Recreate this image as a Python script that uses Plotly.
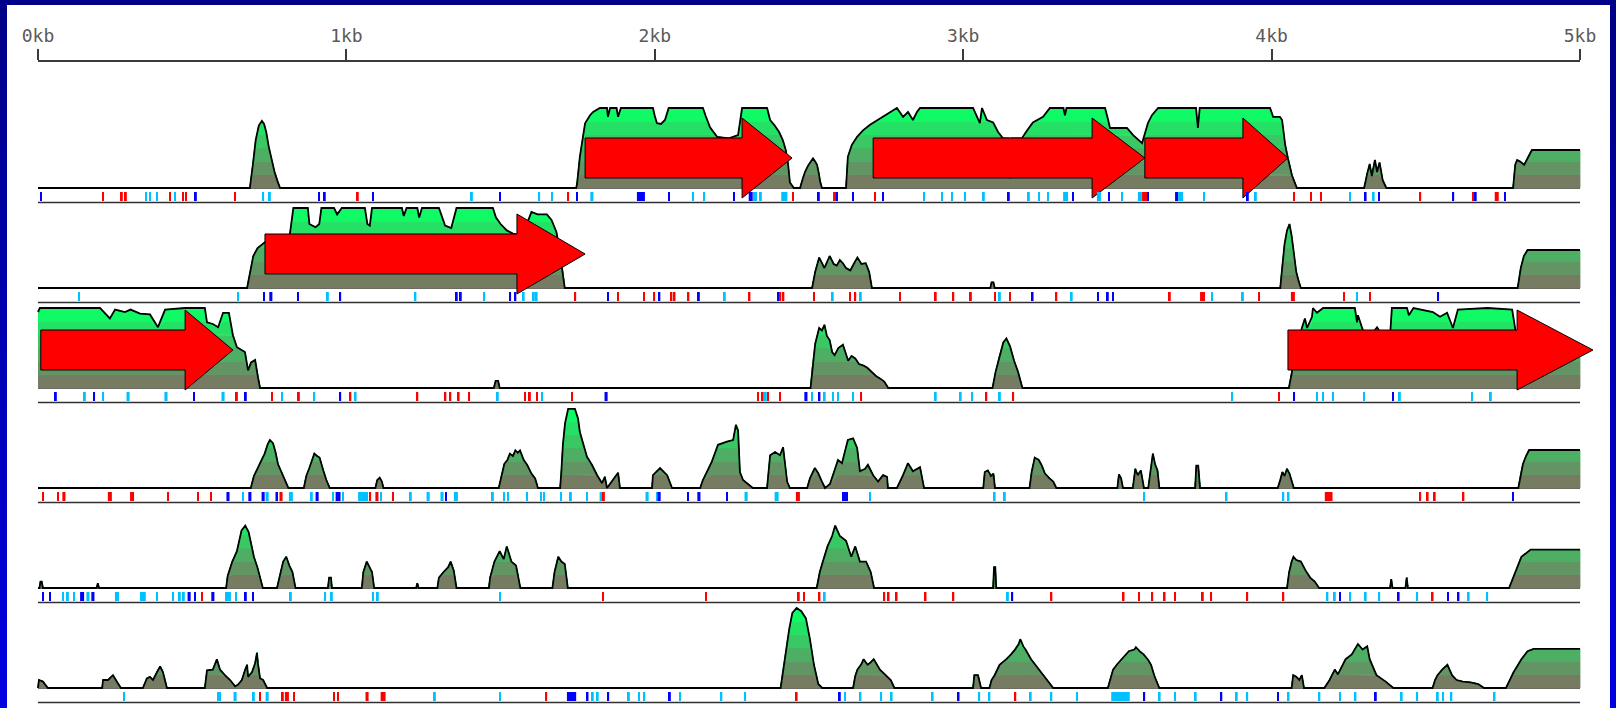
import plotly.graph_objects as go

# ---------------- data ----------------
seq_len = 5000
kb_ticks = [0, 1000, 2000, 3000, 4000, 5000]
kb_labels = ["0kb", "1kb", "2kb", "3kb", "4kb", "5kb"]

# profile of each of the six frames: (position bp, value %)
frame1 = [(0, 0), (687, 0), (697, 30), (706, 60), (716, 78), (726, 84), (733, 80), (740, 70), (748, 52),
          (757, 35), (767, 20), (777, 8), (785, 0),
          (1745, 0), (1748, 5), (1757, 39), (1766, 60), (1774, 81), (1790, 91), (1800, 95), (1822, 100),
          (1845, 100), (1848, 89), (1855, 100), (1876, 100), (1881, 89), (1890, 100), (1994, 100), (2000, 90),
          (2007, 81), (2020, 80), (2033, 85), (2045, 100), (2156, 100), (2165, 90), (2179, 76), (2202, 64),
          (2240, 62), (2270, 66), (2283, 100), (2364, 100), (2374, 85), (2387, 79), (2403, 70), (2415, 60),
          (2425, 47), (2432, 30), (2438, 7), (2451, 0),
          (2471, 0), (2480, 12), (2487, 20), (2497, 28), (2503, 32), (2513, 37), (2520, 33), (2526, 29),
          (2532, 18), (2536, 8), (2542, 0),
          (2620, 0), (2626, 39), (2639, 54), (2656, 64), (2675, 72), (2698, 79), (2730, 87), (2763, 95),
          (2785, 100), (2805, 89), (2821, 95), (2837, 85), (2850, 95), (2860, 100), (3032, 100), (3054, 81),
          (3061, 100), (3077, 85), (3097, 82), (3113, 70), (3129, 62), (3148, 62), (3152, 12), (3156, 62),
          (3190, 62), (3207, 72), (3226, 82), (3259, 89), (3281, 100), (3325, 100), (3330, 91), (3335, 100),
          (3460, 100), (3470, 85), (3476, 75), (3531, 75), (3551, 66), (3580, 56), (3599, 81), (3612, 91),
          (3632, 100), (3755, 100), (3761, 75), (3767, 100), (3995, 100), (4005, 89), (4027, 89), (4034, 85),
          (4044, 54), (4053, 37), (4066, 16), (4082, 0),
          (4300, 0), (4310, 18), (4318, 30), (4325, 15), (4335, 35), (4342, 20), (4350, 32), (4360, 10),
          (4372, 0),
          (4783, 0), (4790, 29), (4796, 35), (4806, 33), (4819, 29), (4829, 37), (4838, 44), (4844, 47.5),
          (5000, 47.5)]

frame2 = [(0, 0), (678, 0), (688, 20), (698, 40), (712, 50), (729, 55), (745, 60), (815, 62), (822, 85),
          (828, 100), (875, 100), (880, 80), (900, 76), (912, 80), (919, 100), (960, 100), (970, 92),
          (985, 100), (1060, 100), (1068, 80), (1076, 78), (1083, 100), (1180, 100), (1186, 90), (1195, 100),
          (1230, 100), (1236, 88), (1245, 100), (1300, 100), (1310, 90), (1320, 78), (1340, 75), (1357, 100),
          (1475, 100), (1485, 88), (1500, 80), (1520, 72), (1540, 68), (1560, 66), (1590, 85), (1600, 95),
          (1620, 92), (1650, 92), (1665, 85), (1681, 70), (1690, 50), (1700, 25), (1708, 0),
          (2510, 0), (2520, 20), (2533, 38), (2542, 30), (2550, 25), (2558, 32), (2567, 40), (2580, 30),
          (2590, 28), (2600, 35), (2610, 31), (2620, 25), (2634, 22), (2645, 30), (2657, 38), (2670, 30),
          (2684, 31), (2695, 20), (2704, 0),
          (3088, 0), (3092, 7), (3098, 7), (3102, 0),
          (4028, 0), (4035, 30), (4042, 55), (4050, 72), (4058, 80), (4065, 65), (4072, 40), (4080, 20),
          (4088, 8), (4095, 0),
          (4798, 0), (4808, 25), (4818, 40), (4830, 47.5), (5000, 47.5)]

frame3 = [(0, 95), (6, 100), (201, 100), (233, 87), (250, 98), (282, 95), (300, 98), (331, 93), (363, 92),
          (389, 76), (412, 98), (477, 100), (541, 100), (548, 82), (567, 80), (584, 76), (600, 94), (619, 94),
          (632, 66), (645, 51), (671, 45), (681, 22), (691, 32), (704, 35), (713, 14), (720, 0),
          (1478, 0), (1484, 9), (1492, 9), (1497, 0),
          (2505, 0), (2512, 30), (2520, 55), (2533, 75), (2542, 72), (2550, 79), (2558, 65), (2567, 60),
          (2575, 45), (2583, 41), (2595, 50), (2610, 54), (2618, 45), (2627, 34), (2638, 40), (2650, 37),
          (2662, 30), (2677, 28), (2690, 25), (2700, 21), (2717, 15), (2730, 12), (2744, 8), (2757, 0),
          (3095, 0), (3105, 20), (3118, 41), (3130, 57), (3140, 62), (3152, 52), (3165, 34), (3178, 20),
          (3192, 0),
          (4056, 0), (4066, 20), (4080, 50), (4099, 76), (4108, 87), (4115, 75), (4131, 89), (4134, 100),
          (4147, 94), (4167, 100), (4270, 100), (4277, 82), (4280, 91), (4296, 72), (4320, 65), (4342, 76),
          (4360, 65), (4385, 70), (4390, 100), (4439, 100), (4445, 91), (4460, 100), (4523, 95), (4546, 89),
          (4569, 94), (4588, 75), (4604, 98), (4700, 100), (4780, 98), (4789, 76), (4796, 60), (4830, 47.5),
          (5000, 47.5)]

frame4 = [(0, 0), (690, 0), (700, 15), (712, 24), (725, 35), (735, 43), (745, 55), (752, 60), (762, 56),
          (770, 45), (778, 30), (790, 20), (800, 11), (812, 0),
          (862, 0), (870, 15), (879, 24), (890, 35), (896, 43), (905, 40), (913, 38), (925, 22), (935, 10),
          (946, 0),
          (1094, 0), (1100, 10), (1108, 13), (1115, 8), (1120, 0),
          (1494, 0), (1500, 10), (1512, 30), (1522, 35), (1530, 43), (1540, 40), (1548, 47), (1556, 44),
          (1563, 47), (1575, 35), (1586, 29), (1600, 18), (1612, 12), (1621, 0),
          (1693, 0), (1697, 20), (1702, 54), (1709, 81), (1719, 99), (1741, 99), (1751, 87), (1757, 70),
          (1767, 56), (1780, 39), (1796, 29), (1813, 16), (1829, 6), (1838, 14), (1845, 0), (1864, 10),
          (1881, 19), (1887, 0),
          (1991, 0), (1994, 16), (2017, 25), (2040, 16), (2056, 0),
          (2147, 0), (2156, 10), (2185, 33), (2205, 54), (2234, 58), (2254, 60), (2263, 79), (2270, 72),
          (2276, 20), (2286, 10), (2318, 0),
          (2364, 0), (2374, 41), (2390, 45), (2406, 41), (2416, 51), (2429, 8), (2438, 0),
          (2494, 0), (2503, 12), (2519, 25), (2529, 19), (2542, 8), (2552, 0),
          (2568, 5), (2594, 35), (2607, 31), (2626, 60), (2643, 62), (2656, 50), (2665, 21), (2682, 24),
          (2691, 29), (2708, 16), (2724, 8), (2740, 16), (2753, 14), (2756, 0),
          (2785, 0), (2805, 16), (2821, 31), (2837, 21), (2860, 26), (2873, 0),
          (3065, 0), (3070, 20), (3080, 22), (3090, 15), (3098, 18), (3103, 0),
          (3215, 0), (3222, 20), (3232, 38), (3245, 35), (3255, 28), (3265, 18), (3280, 12), (3292, 8),
          (3302, 0),
          (3500, 0), (3505, 17), (3512, 12), (3518, 0),
          (3550, 0), (3558, 24), (3566, 16), (3576, 22), (3586, 0),
          (3600, 0), (3608, 20), (3615, 43), (3622, 30), (3630, 22), (3636, 0),
          (3752, 0), (3756, 28), (3762, 28), (3768, 0),
          (4020, 0), (4028, 10), (4035, 20), (4042, 15), (4050, 24), (4058, 18), (4066, 8), (4072, 0),
          (4800, 0), (4808, 18), (4815, 30), (4825, 40), (4835, 47.5), (5000, 47.5)]

frame5 = [(0, 0), (5, 0), (8, 8), (12, 8), (16, 0),
          (190, 0), (194, 6), (198, 0),
          (610, 0), (615, 15), (630, 33), (645, 46), (660, 72), (672, 78), (683, 70), (690, 58), (700, 39),
          (712, 25), (722, 10), (729, 0),
          (775, 0), (782, 13), (795, 33), (805, 39), (815, 28), (825, 20), (835, 0),
          (940, 0), (944, 13), (950, 13), (953, 0),
          (1050, 0), (1055, 20), (1066, 33), (1075, 25), (1083, 20), (1090, 0),
          (1226, 0), (1230, 6), (1234, 0),
          (1295, 0), (1300, 13), (1315, 20), (1330, 26), (1338, 33), (1348, 22), (1357, 0),
          (1462, 0), (1466, 13), (1480, 33), (1497, 46), (1510, 36), (1520, 52), (1535, 33), (1550, 28),
          (1564, 0),
          (1668, 0), (1675, 20), (1687, 39), (1697, 33), (1708, 30), (1718, 0),
          (2525, 0), (2535, 20), (2545, 33), (2560, 52), (2575, 65), (2585, 78), (2600, 65), (2620, 59),
          (2637, 39), (2650, 52), (2665, 33), (2685, 33), (2700, 20), (2711, 0),
          (3097, 0), (3100, 26), (3104, 26), (3107, 0),
          (4050, 0), (4057, 20), (4065, 33), (4071, 39), (4080, 35), (4095, 33), (4110, 22), (4125, 13),
          (4140, 8), (4154, 0),
          (4384, 0), (4388, 11), (4392, 0), (4434, 0), (4438, 13), (4442, 0),
          (4770, 0), (4790, 20), (4810, 39), (4840, 48), (5000, 48)]

frame6 = [(0, 0), (3, 10), (16, 8), (32, 0),
          (208, 0), (211, 10), (227, 10), (243, 16), (259, 6), (269, 0),
          (340, 0), (353, 12), (363, 14), (373, 10), (386, 20), (396, 27), (405, 20), (412, 10), (418, 0),
          (541, 0), (548, 22), (567, 23), (580, 36), (590, 23), (606, 16), (623, 10), (639, 2), (648, 4),
          (661, 10), (671, 22), (678, 29), (681, 14), (694, 20), (704, 31), (710, 44), (713, 31), (720, 12),
          (730, 10), (743, 0),
          (2408, 0), (2415, 20), (2422, 36), (2430, 60), (2436, 74), (2446, 94), (2460, 100), (2475, 96),
          (2490, 87), (2503, 61), (2516, 29), (2530, 5), (2543, 0),
          (2643, 0), (2650, 15), (2657, 23), (2670, 30), (2677, 36), (2690, 29), (2700, 32), (2710, 36),
          (2730, 23), (2750, 16), (2765, 10), (2777, 0),
          (3032, 0), (3036, 16), (3048, 16), (3058, 0),
          (3085, 0), (3092, 10), (3102, 16), (3118, 29), (3140, 36), (3155, 42), (3168, 48), (3180, 55),
          (3185, 61), (3195, 52), (3202, 48), (3220, 36), (3245, 23), (3268, 12), (3280, 5), (3292, 0),
          (3469, 0), (3480, 15), (3486, 23), (3500, 30), (3513, 36), (3537, 46), (3555, 48), (3560, 51),
          (3575, 45), (3585, 42), (3600, 35), (3609, 29), (3620, 15), (3636, 0),
          (4065, 0), (4070, 16), (4080, 14), (4090, 10), (4098, 16), (4105, 0),
          (4171, 0), (4180, 5), (4188, 10), (4205, 23), (4215, 17), (4240, 36), (4260, 42), (4280, 55),
          (4295, 48), (4310, 52), (4318, 36), (4340, 16), (4370, 8), (4395, 0),
          (4522, 0), (4530, 10), (4538, 16), (4553, 23), (4570, 29), (4585, 16), (4600, 10), (4620, 8),
          (4645, 7), (4670, 5), (4689, 0),
          (4760, 0), (4785, 20), (4810, 36), (4830, 46), (4850, 49), (5000, 49)]

profiles = [frame1, frame2, frame3, frame4, frame5, frame6]

# ORF arrows per frame: (start bp, head start bp, end bp)
orfs = {
    0: [(1774, 2283, 2445), (2708, 3418, 3589), (3589, 3907, 4053)],
    1: [(736, 1553, 1774)],
    2: [(9, 477, 632), (4053, 4796, 5042)],
}

# codon marks per frame: (position bp, width bp, kind)  R = stop, B / C = start codons
marks1 = [(10, 6, 'B'), (211, 6, 'R'), (272, 6, 'R'), (285, 6, 'R'), (350, 6, 'C'), (363, 6, 'C'), (386, 6, 'C'),
          (428, 6, 'R'), (444, 6, 'C'), (470, 6, 'R'), (480, 6, 'R'), (512, 6, 'B'), (639, 6, 'R'), (730, 6, 'C'),
          (752, 6, 'C'), (911, 6, 'B'), (930, 6, 'B'), (1037, 6, 'R'), (1086, 6, 'B'), (1407, 6, 'C'),
          (1498, 6, 'B'), (1625, 6, 'C'), (1667, 6, 'C'), (1719, 6, 'R'), (1748, 6, 'B'), (1796, 10, 'C'),
          (1955, 26, 'B'), (2046, 6, 'B'), (2124, 6, 'C'), (2160, 6, 'C'), (2257, 6, 'B'), (2311, 13, 'B'),
          (2325, 13, 'C'), (2344, 6, 'C'), (2420, 20, 'C'), (2448, 6, 'R'), (2532, 6, 'B'), (2583, 10, 'R'),
          (2591, 6, 'B'), (2643, 6, 'B'), (2714, 6, 'R'), (2740, 6, 'B'), (2873, 6, 'C'), (2931, 6, 'C'),
          (2964, 6, 'C'), (3006, 6, 'C'), (3067, 6, 'C'), (3148, 6, 'B'), (3213, 6, 'C'), (3246, 6, 'C'),
          (3275, 6, 'C'), (3332, 16, 'C'), (3356, 6, 'B'), (3440, 13, 'C'), (3473, 6, 'B'), (3515, 6, 'C'),
          (3573, 13, 'C'), (3588, 16, 'R'), (3599, 6, 'B'), (3692, 10, 'B'), (3705, 16, 'C'), (3781, 6, 'C'),
          (3923, 6, 'B'), (3949, 6, 'C'), (4073, 6, 'R'), (4128, 6, 'R'), (4160, 6, 'R'), (4254, 6, 'C'),
          (4305, 6, 'B'), (4331, 6, 'C'), (4348, 6, 'B'), (4482, 6, 'R'), (4589, 6, 'B'), (4656, 6, 'R'),
          (4662, 6, 'B'), (4730, 13, 'R'), (4757, 6, 'B')]
marks2 = [(133, 6, 'C'), (649, 6, 'C'), (733, 6, 'B'), (755, 10, 'B'), (843, 6, 'B'), (940, 6, 'C'), (980, 6, 'B'),
          (1224, 6, 'C'), (1358, 6, 'B'), (1371, 6, 'B'), (1447, 6, 'C'), (1531, 6, 'B'), (1548, 6, 'B'),
          (1575, 6, 'C'), (1608, 6, 'C'), (1617, 6, 'C'), (1742, 6, 'R'), (1848, 6, 'B'), (1881, 6, 'R'),
          (1965, 6, 'R'), (1998, 6, 'R'), (2015, 6, 'B'), (2054, 6, 'R'), (2064, 6, 'R'), (2109, 6, 'R'),
          (2143, 6, 'B'), (2227, 6, 'C'), (2307, 6, 'R'), (2400, 6, 'B'), (2407, 6, 'R'), (2417, 6, 'R'),
          (2516, 6, 'R'), (2577, 6, 'C'), (2633, 6, 'R'), (2650, 6, 'R'), (2668, 6, 'C'), (2795, 6, 'R'),
          (2911, 6, 'R'), (2968, 6, 'R'), (3025, 6, 'R'), (3103, 6, 'R'), (3119, 6, 'C'), (3152, 6, 'R'),
          (3225, 6, 'B'), (3302, 6, 'R'), (3352, 6, 'C'), (3437, 6, 'B'), (3469, 6, 'B'), (3486, 6, 'B'),
          (3670, 6, 'R'), (3776, 16, 'R'), (3807, 6, 'C'), (3907, 6, 'C'), (3959, 6, 'R'), (4069, 13, 'R'),
          (4235, 6, 'R'), (4277, 6, 'C'), (4319, 6, 'R'), (4540, 6, 'B')]
marks3 = [(58, 6, 'B'), (152, 6, 'C'), (182, 6, 'B'), (211, 6, 'C'), (292, 10, 'C'), (415, 10, 'C'), (506, 6, 'B'),
          (600, 10, 'C'), (645, 6, 'R'), (674, 6, 'B'), (759, 6, 'R'), (791, 6, 'C'), (846, 6, 'R'), (896, 6, 'C'),
          (980, 6, 'B'), (1013, 6, 'R'), (1030, 6, 'C'), (1230, 6, 'R'), (1321, 6, 'R'), (1337, 6, 'R'),
          (1364, 6, 'R'), (1398, 6, 'R'), (1491, 6, 'C'), (1579, 6, 'R'), (1595, 6, 'R'), (1618, 6, 'R'),
          (1634, 6, 'C'), (1732, 6, 'R'), (1842, 10, 'B'), (2335, 6, 'R'), (2350, 6, 'R'), (2360, 6, 'C'),
          (2367, 6, 'R'), (2406, 6, 'R'), (2490, 10, 'B'), (2510, 6, 'C'), (2534, 6, 'B'), (2551, 6, 'C'),
          (2578, 6, 'C'), (2594, 6, 'C'), (2643, 6, 'C'), (2669, 6, 'R'), (2911, 6, 'C'), (2992, 6, 'C'),
          (3029, 6, 'C'), (3075, 6, 'R'), (3119, 6, 'C'), (3162, 6, 'R'), (3872, 6, 'C'), (4024, 6, 'R'),
          (4073, 6, 'B'), (4147, 6, 'C'), (4167, 6, 'C'), (4199, 6, 'C'), (4300, 6, 'C'), (4394, 6, 'B'),
          (4416, 6, 'C'), (4650, 6, 'C'), (4711, 6, 'C')]
marks4 = [(16, 6, 'R'), (65, 6, 'R'), (84, 10, 'R'), (233, 13, 'R'), (305, 13, 'R'), (422, 6, 'R'), (519, 6, 'R'),
          (561, 6, 'R'), (616, 10, 'B'), (665, 6, 'C'), (687, 10, 'B'), (730, 10, 'B'), (743, 10, 'C'),
          (772, 6, 'C'), (775, 6, 'B'), (788, 10, 'R'), (820, 13, 'C'), (888, 6, 'C'), (905, 10, 'B'),
          (957, 6, 'C'), (973, 16, 'B'), (989, 6, 'C'), (1054, 32, 'C'), (1077, 6, 'R'), (1099, 10, 'R'),
          (1112, 6, 'C'), (1151, 6, 'R'), (1209, 6, 'C'), (1265, 10, 'C'), (1310, 10, 'C'), (1323, 6, 'B'),
          (1355, 13, 'C'), (1475, 6, 'C'), (1511, 6, 'C'), (1524, 6, 'C'), (1586, 6, 'C'), (1631, 6, 'C'),
          (1641, 6, 'C'), (1696, 6, 'C'), (1728, 6, 'C'), (1780, 6, 'C'), (1826, 10, 'C'), (1835, 6, 'R'),
          (1975, 10, 'C'), (2007, 6, 'C'), (2014, 10, 'B'), (2108, 6, 'B'), (2143, 10, 'B'), (2234, 6, 'B'),
          (2296, 10, 'C'), (2395, 13, 'C'), (2464, 13, 'R'), (2610, 6, 'B'), (2620, 13, 'B'), (2698, 6, 'C'),
          (3102, 6, 'C'), (3135, 6, 'C'), (3587, 6, 'C'), (3854, 6, 'C'), (4038, 6, 'C'), (4055, 6, 'C'),
          (4185, 25, 'R'), (4482, 6, 'R'), (4506, 6, 'R'), (4529, 6, 'R'), (4622, 6, 'R'), (4783, 6, 'B')]
marks5 = [(16, 6, 'B'), (39, 6, 'B'), (81, 6, 'C'), (97, 6, 'C'), (117, 6, 'C'), (143, 13, 'B'), (162, 10, 'C'),
          (178, 10, 'B'), (256, 13, 'C'), (340, 19, 'C'), (386, 6, 'C'), (438, 6, 'C'), (460, 6, 'C'),
          (473, 6, 'C'), (490, 10, 'B'), (509, 6, 'B'), (532, 6, 'R'), (567, 10, 'B'), (616, 19, 'C'),
          (642, 6, 'C'), (674, 6, 'B'), (697, 6, 'B'), (820, 6, 'C'), (931, 6, 'C'), (953, 6, 'C'), (1086, 6, 'C'),
          (1102, 6, 'C'), (1498, 6, 'C'), (1832, 6, 'R'), (2166, 6, 'R'), (2467, 6, 'R'), (2484, 6, 'R'),
          (2534, 6, 'R'), (2551, 6, 'C'), (2744, 6, 'R'), (2758, 6, 'R'), (2784, 6, 'R'), (2878, 6, 'R'),
          (2968, 6, 'R'), (3145, 6, 'C'), (3159, 6, 'B'), (3286, 6, 'R'), (3520, 6, 'R'), (3570, 6, 'R'),
          (3613, 6, 'R'), (3653, 6, 'R'), (3687, 6, 'R'), (3777, 6, 'R'), (3804, 6, 'R'), (3921, 6, 'R'),
          (4038, 6, 'R'), (4181, 6, 'C'), (4205, 6, 'C'), (4222, 6, 'B'), (4255, 6, 'C'), (4305, 6, 'C'),
          (4349, 6, 'C'), (4412, 6, 'B'), (4472, 6, 'C'), (4522, 6, 'R'), (4572, 6, 'B'), (4606, 6, 'B'),
          (4639, 6, 'C'), (4699, 6, 'C')]
marks6 = [(279, 6, 'C'), (587, 13, 'C'), (639, 10, 'C'), (700, 6, 'C'), (720, 6, 'R'), (743, 10, 'C'), (794, 6, 'R'),
          (807, 13, 'R'), (830, 6, 'R'), (960, 6, 'R'), (973, 6, 'R'), (1067, 10, 'R'), (1119, 16, 'R'),
          (1287, 6, 'C'), (1498, 6, 'C'), (1648, 6, 'R'), (1730, 30, 'B'), (1782, 6, 'B'), (1799, 6, 'C'),
          (1815, 6, 'C'), (1849, 6, 'B'), (1916, 6, 'C'), (1949, 6, 'C'), (1966, 6, 'C'), (2049, 6, 'B'),
          (2082, 6, 'C'), (2216, 6, 'C'), (2293, 6, 'C'), (2460, 6, 'R'), (2600, 6, 'B'), (2617, 6, 'C'),
          (2667, 6, 'C'), (2734, 6, 'C'), (2768, 6, 'C'), (2901, 6, 'C'), (2985, 6, 'B'), (3052, 6, 'C'),
          (3085, 6, 'C'), (3169, 6, 'R'), (3219, 6, 'C'), (3286, 6, 'C'), (3369, 6, 'C'), (3510, 60, 'C'),
          (3587, 6, 'B'), (3637, 6, 'C'), (3687, 6, 'C'), (3754, 6, 'C'), (3837, 6, 'B'), (3887, 6, 'C'),
          (3921, 6, 'C'), (4021, 6, 'B'), (4055, 6, 'C'), (4155, 6, 'C'), (4222, 6, 'C'), (4272, 6, 'C'),
          (4338, 6, 'B'), (4422, 6, 'C'), (4472, 6, 'C'), (4539, 6, 'C'), (4556, 6, 'C'), (4583, 6, 'C'),
          (4723, 6, 'C')]
marks = [marks1, marks2, marks3, marks4, marks5, marks6]

# ---------------- style / layout ----------------
W, H = 1616, 708
AX_L, AX_R = 38, 1580          # pixel x of 0 bp and of seq_len
RULER_Y = 62
BASE0, GAP = 188, 100          # baseline pixel of first track, track spacing
PROF_H = 80                    # pixel height of 100 %
ARROW_MID = [30, 34, 38]       # arrow centre above baseline (px) per frame
mark_colors = {'R': '#ff0000', 'B': '#0000ff', 'C': '#00c0ff'}
band_lo, band_hi = (118, 124, 98), (16, 250, 102)
n_bands = 6
band_colors = []
for j in range(n_bands):
    t = j / (n_bands - 1)
    c = [round(a + (b - a) * t) for a, b in zip(band_lo, band_hi)]
    band_colors.append('rgb(%d,%d,%d)' % tuple(c))

px_per_bp = (AX_R - AX_L) / seq_len
x_range = [-AX_L / px_per_bp, (W - AX_L) / px_per_bp]
pct_per_px = 100.0 / PROF_H


def ydom(top_px, bot_px):
    return [1 - bot_px / H, 1 - top_px / H]


fig = go.Figure()
layout = dict(
    template='none',
    width=W, height=H, margin=dict(l=0, r=0, t=0, b=0, pad=0, autoexpand=False),
    paper_bgcolor='#0000a0', plot_bgcolor='rgba(0,0,0,0)',
    showlegend=False, barmode='overlay',
    xaxis=dict(domain=[0, 1], range=x_range, visible=False, fixedrange=True, automargin=False),
)
hidden = dict(visible=False, showgrid=False, zeroline=False, fixedrange=True, anchor='x', automargin=False)

for k in range(6):
    base = BASE0 + GAP * k
    pa = k + 1
    sa = k + 7
    layout['yaxis' if pa == 1 else 'yaxis%d' % pa] = dict(
        hidden, domain=ydom(base - 85, base + 15), range=[-15 * pct_per_px, 85 * pct_per_px])
    layout['yaxis%d' % sa] = dict(hidden, domain=ydom(base + 3, base + 16), range=[0, 13])

layout['yaxis13'] = dict(visible=False, showgrid=False, zeroline=False, fixedrange=True, anchor='x2',
                         automargin=False, domain=[0, 1 - RULER_Y / H], range=[0, 1])
layout['xaxis2'] = dict(domain=[AX_L / W, AX_R / W], range=[0, seq_len], anchor='y13', side='top',
                        automargin=False,
                        showline=True, linecolor='#3a3a3a', linewidth=1.5, showgrid=False, zeroline=False,
                        ticks='outside', ticklen=11, tickwidth=1.5, tickcolor='#3a3a3a',
                        tickvals=kb_ticks, ticktext=kb_labels, ticklabelstandoff=0,
                        tickfont=dict(family='DejaVu Sans Mono', size=18, color='#5a5a5a'), fixedrange=True)

fig.add_trace(go.Scatter(x=[0, 0], y=[-5, -5], mode='lines', xaxis='x2', yaxis='y13',
                         line=dict(width=0), hoverinfo='skip'))

# strips and baselines
for k in range(6):
    pa = 'y' if k == 0 else 'y%d' % (k + 1)
    sa = 'y%d' % (k + 7)
    m = marks[k]
    fig.add_trace(go.Bar(x=[p for p, w, c in m], y=[9] * len(m), base=[3] * len(m),
                         width=[w for p, w, c in m], marker=dict(color=[mark_colors[c] for p, w, c in m],
                                                                 line=dict(width=0)),
                         xaxis='x', yaxis=sa, hoverinfo='skip'))
    fig.add_trace(go.Scatter(x=[0, seq_len], y=[1.5, 1.5], mode='lines', xaxis='x', yaxis=sa,
                             line=dict(color='#303030', width=1.6), hoverinfo='skip'))
    fig.add_trace(go.Scatter(x=[0, seq_len], y=[0, 0], mode='lines', xaxis='x', yaxis=pa,
                             line=dict(color='#303030', width=1.4), hoverinfo='skip'))

# profiles
for k in range(6):
    pa = 'y' if k == 0 else 'y%d' % (k + 1)
    xs = [p for p, v in profiles[k]]
    vs = [v for p, v in profiles[k]]
    for j in range(n_bands):
        lo = 100.0 * j / n_bands
        hi = 100.0 * (j + 1) / n_bands
        low = [min(v, lo) for v in vs]
        up = [min(v, hi) for v in vs]
        fig.add_trace(go.Scatter(x=xs + xs[::-1], y=up + low[::-1], fill='toself', mode='lines',
                                 fillcolor=band_colors[j], line=dict(width=0.8, color=band_colors[j]),
                                 xaxis='x', yaxis=pa, hoverinfo='skip'))
    fig.add_trace(go.Scatter(x=xs, y=vs, mode='lines', line=dict(color='black', width=1.8),
                             xaxis='x', yaxis=pa, hoverinfo='skip'))

# arrows
for k, lst in orfs.items():
    pa = 'y' if k == 0 else 'y%d' % (k + 1)
    c = ARROW_MID[k] * pct_per_px
    sh = 20 * pct_per_px
    hh = 40 * pct_per_px
    for s, hb, e in lst:
        fig.add_trace(go.Scatter(x=[s, hb, hb, e, hb, hb, s, s],
                                 y=[c + sh, c + sh, c + hh, c, c - hh, c - sh, c - sh, c + sh],
                                 fill='toself', fillcolor='#ff0000', mode='lines',
                                 line=dict(color='black', width=1), xaxis='x', yaxis=pa, hoverinfo='skip'))

# border gradient + white panel
shapes = []
n_sl = 24
for i in range(n_sl):
    b = round(0x88 + (0xe0 - 0x88) * i / (n_sl - 1))
    shapes.append(dict(type='rect', xref='paper', yref='paper', x0=0, x1=1,
                       y0=1 - (i + 1) / n_sl, y1=1 - i / n_sl, fillcolor='rgb(0,0,%d)' % b,
                       line=dict(width=0), layer='below'))
shapes.append(dict(type='rect', xref='paper', yref='paper', x0=7 / W, x1=1610 / W, y0=0, y1=1 - 5 / H,
                   fillcolor='white', line=dict(width=0), layer='below'))
layout['shapes'] = shapes
fig.update_layout(**layout)
fig.write_html("out.html", config={'displayModeBar': False},
               post_script="document.body.style.margin='0';document.body.style.overflow='hidden';")
